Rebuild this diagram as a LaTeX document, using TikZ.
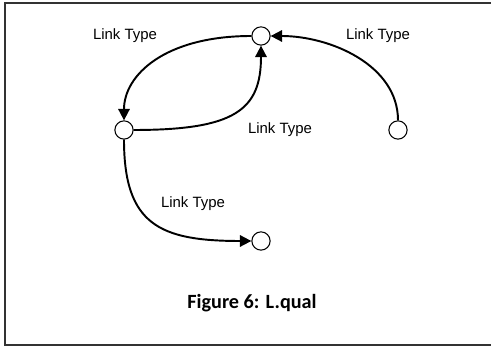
\documentclass[tikz,border=0pt]{standalone}
\usepackage{fontspec}
\setmainfont{Liberation Sans}
\newfontfamily\captionfont{Carlito}
\usetikzlibrary{arrows.meta,positioning}
\definecolor{Ink}{HTML}{000000}
\definecolor{Frame}{HTML}{333333}
\tikzset{
  entity/.style={
    circle, draw=Ink, line width=0.6pt, fill=white,
    minimum size=10.4pt, inner sep=0pt
  },
  linklabel/.style={font=\fontsize{8.5}{10}\selectfont, text=Ink},
  link/.style={-{Triangle[length=6.5pt,width=6.5pt]}, line width=1.1pt, draw=Ink}
}

\begin{document}
\begin{tikzpicture}[x=0.02cm,y=-0.02cm]
    \useasboundingbox (0,0) rectangle (491,347);
    \draw[Frame, line width=1.1pt] (491,3) -- (5,3) -- (5,345) -- (491,345);
    \node[entity] (hub) at (261,36) {};
    \node[entity] (left) at (124,130) {};
    \node[entity] (right) at (398,130) {};
    \node[entity] (sink) at (261,241) {};
    \draw[link] (hub.west) .. controls (165,36) and (124,75) .. (left.north);
    \draw[link] (left.east) .. controls (235,130) and (261,110) .. (hub.south);
    \draw[link] (right.north) .. controls (398,65) and (330,36) .. (hub.east);
    \draw[link] (left.south) .. controls (124,225) and (160,241) .. (sink.west);
    \node[linklabel] (lblA) at (125,36) {Link Type};
    \node[linklabel] (lblB) at (378,36) {Link Type};
    \node[linklabel] (lblC) at (280,130) {Link Type};
    \node[linklabel] (lblD) at (193,204) {Link Type};
    \node[font=\captionfont\bfseries\fontsize{11.5}{14}\selectfont] (caption) at (252,303) {Figure 6: L.qual};
  \end{tikzpicture}
\end{document}
